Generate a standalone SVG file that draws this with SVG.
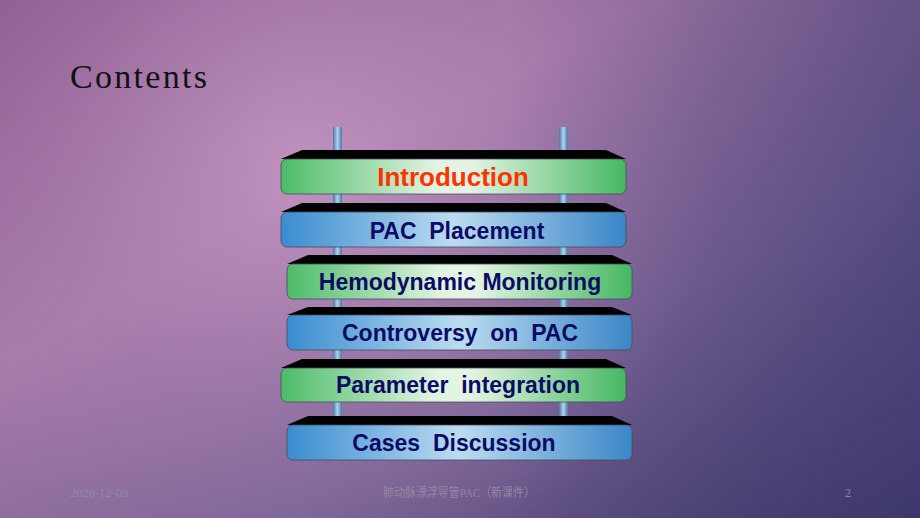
<svg xmlns="http://www.w3.org/2000/svg" width="920" height="518" viewBox="0 0 920 518">
<defs>
<linearGradient id="bg" x1="0" y1="0" x2="1" y2="1">
<stop offset="0" stop-color="#8e5a8e"/>
<stop offset="0.35" stop-color="#a67aa8"/>
<stop offset="0.65" stop-color="#7a6496"/>
<stop offset="1" stop-color="#3c3766"/>
</linearGradient>
<radialGradient id="glow" cx="300" cy="170" r="420" gradientUnits="userSpaceOnUse">
<stop offset="0" stop-color="#c79ac6" stop-opacity="0.75"/>
<stop offset="0.6" stop-color="#b58ab8" stop-opacity="0.25"/>
<stop offset="1" stop-color="#b58ab8" stop-opacity="0"/>
</radialGradient>
<linearGradient id="right" x1="0" y1="0" x2="1" y2="0">
<stop offset="0.55" stop-color="#3e3a70" stop-opacity="0"/>
<stop offset="1" stop-color="#3e3a70" stop-opacity="0.55"/>
</linearGradient>
<linearGradient id="green" x1="0" y1="0" x2="1" y2="0">
<stop offset="0" stop-color="#4cbc68"/>
<stop offset="0.45" stop-color="#e3f4e2"/>
<stop offset="0.55" stop-color="#e3f4e2"/>
<stop offset="1" stop-color="#45b862"/>
</linearGradient>
<linearGradient id="blue" x1="0" y1="0" x2="1" y2="0">
<stop offset="0" stop-color="#3a8cd0"/>
<stop offset="0.5" stop-color="#bcdcf0"/>
<stop offset="1" stop-color="#3a86c8"/>
</linearGradient>
<linearGradient id="rod" x1="0" y1="0" x2="1" y2="0">
<stop offset="0" stop-color="#4a78a8"/>
<stop offset="0.5" stop-color="#b0d0ec"/>
<stop offset="1" stop-color="#4a78a8"/>
</linearGradient>
</defs>
<style>
.plate{fill:#000}
.g{fill:url(#green);stroke:#4a4a5a;stroke-width:0.8}
.b{fill:url(#blue);stroke:#4a4a5a;stroke-width:0.8}
.t{font-family:"Liberation Sans",Arial,sans-serif;font-weight:bold;font-size:23px;fill:#0c0c66;text-anchor:middle;white-space:pre}
.foot{font-family:"Liberation Serif","Noto Sans CJK SC",serif;font-size:12px;fill:#9486a6}
</style>
<rect width="920" height="518" fill="url(#bg)"/>
<rect width="920" height="518" fill="url(#glow)"/>
<rect width="920" height="518" fill="url(#right)"/>
<text x="70" y="88" font-family="Liberation Serif,serif" font-size="34" fill="#111" textLength="137" lengthAdjust="spacing">Contents</text>
<g id="connectors">
<rect x="333" y="127" width="9" height="295" fill="url(#rod)"/>
<rect x="559" y="127" width="9" height="295" fill="url(#rod)"/>
</g>
<g id="n1">
<polygon class="plate" points="302,150 606,150 626,159 281,159"/>
<rect class="g" x="281" y="159" width="345" height="35" rx="6"/>
<text class="t" x="453" y="186" style="font-size:26px;fill:#ff3300">Introduction</text>
</g>
<g id="n2">
<polygon class="plate" points="302,203 606,203 626,212 281,212"/>
<rect class="b" x="281" y="212" width="345" height="35" rx="6"/>
<text class="t" x="457" y="239">PAC  Placement</text>
</g>
<g id="n3">
<polygon class="plate" points="308,255 612,255 632,264 287,264"/>
<rect class="g" x="287" y="264" width="345" height="35" rx="6"/>
<text class="t" x="460" y="290">Hemodynamic Monitoring</text>
</g>
<g id="n4">
<polygon class="plate" points="308,307 612,307 632,315 287,315"/>
<rect class="b" x="287" y="315" width="345" height="35" rx="6"/>
<text class="t" x="460" y="341">Controversy  on  PAC</text>
</g>
<g id="n5">
<polygon class="plate" points="302,359 606,359 626,368 281,368"/>
<rect class="g" x="281" y="368" width="345" height="34" rx="6"/>
<text class="t" x="458" y="393">Parameter  integration</text>
</g>
<g id="n6">
<polygon class="plate" points="308,416 612,416 632,425 287,425"/>
<rect class="b" x="287" y="425" width="345" height="35" rx="6"/>
<text class="t" x="454" y="451">Cases  Discussion</text>
</g>
<text class="foot" x="70" y="497" textLength="58" lengthAdjust="spacingAndGlyphs">2020-12-08</text>
<text class="foot" x="383" y="497" textLength="152" lengthAdjust="spacingAndGlyphs">肺动脉漂浮导管PAC（新课件）</text>
<text class="foot" x="845" y="497">2</text>
</svg>
